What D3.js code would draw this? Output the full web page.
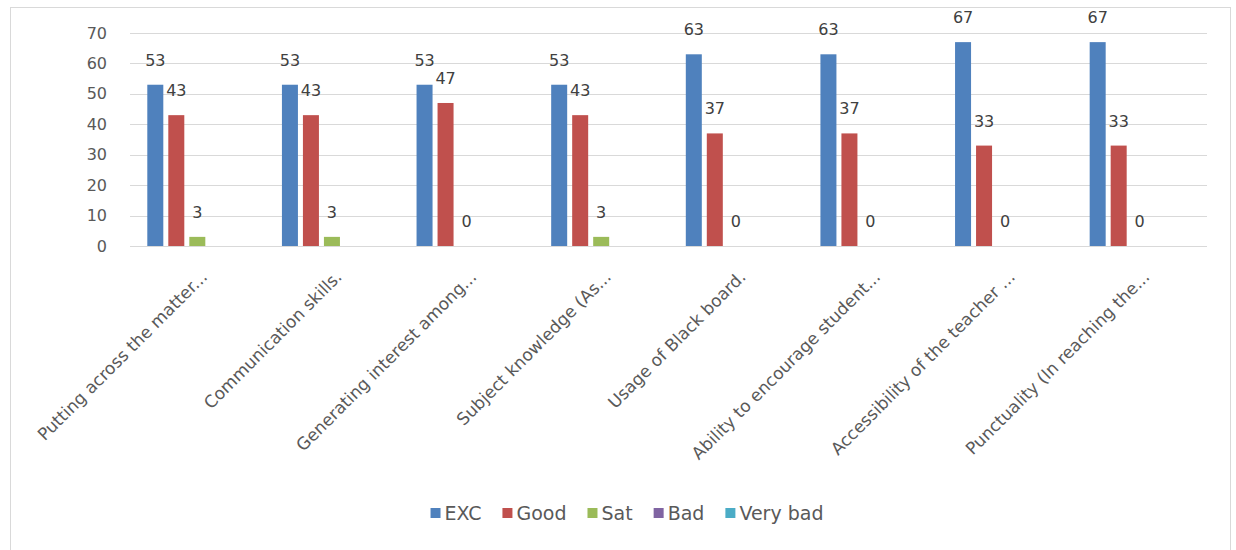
<!DOCTYPE html>
<html>
<head>
<meta charset="utf-8">
<style>
    body { margin: 0; background: #fff; }
    text { font-family: "DejaVu Sans", sans-serif; }
    .grid line { stroke: #d9d9d9; stroke-width: 1px; }
    .tick-label { fill: #595959; font-size: 16px; }
    .cat-label { fill: #595959; font-size: 17px; }
    .legend-label { fill: #595959; font-size: 19px; }
    .val { fill: #404040; font-size: 16px; }
</style>
</head>
<body>
<svg></svg>
<script src="https://d3js.org/d3.v7.min.js"></script>
<script>
    var vWidth = 1236;
    var vHeight = 550;

    var categories = [
        'Putting across the matter...',
        'Communication skills.',
        'Generating interest among...',
        'Subject knowledge (As...',
        'Usage of Black board.',
        'Ability to encourage student...',
        'Accessibility of the teacher ...',
        'Punctuality (In reaching the...'
    ];
    var seriesNames = ['EXC', 'Good', 'Sat', 'Bad', 'Very bad'];
    var seriesColors = ['#4f81bd', '#c0504d', '#9bbb59', '#8064a2', '#4bacc6'];
    var exc = [53, 53, 53, 53, 63, 63, 67, 67];
    var good = [43, 43, 47, 43, 37, 37, 33, 33];
    var sat = [3, 3, 0, 3, 0, 0, 0, 0];
    var bad = [0, 0, 0, 0, 0, 0, 0, 0];
    var veryBad = [0, 0, 0, 0, 0, 0, 0, 0];
    var yTicks = [0, 10, 20, 30, 40, 50, 60, 70];
    // only these series carry data labels in the original
    var labelled = ['EXC', 'Good', 'Sat'];

    var seriesValues = [exc, good, sat, bad, veryBad];

    var svg = d3.select('svg').attr('width', vWidth).attr('height', vHeight);

    // chart frame
    svg.append('rect')
        .attr('x', 10.5).attr('y', 7.5)
        .attr('width', 1220).attr('height', 560)
        .attr('fill', '#fff').attr('stroke', '#d9d9d9');

    var plot = { left: 130, right: 1207, top: 33, bottom: 246 };

    var x0 = d3.scaleBand().domain(categories)
        .range([plot.left, plot.right])
        .paddingInner(0.257).paddingOuter(0.1285);
    var x1 = d3.scaleBand().domain(seriesNames)
        .range([0, x0.bandwidth()])
        .paddingInner(0.238);
    var y = d3.scaleLinear().domain([0, 70]).range([plot.bottom, plot.top]);

    // gridlines
    svg.append('g').attr('class', 'grid')
        .selectAll('line').data(yTicks).enter().append('line')
        .attr('x1', plot.left).attr('x2', plot.right)
        .attr('y1', function (d) { return Math.round(y(d)) + 0.5; })
        .attr('y2', function (d) { return Math.round(y(d)) + 0.5; });

    // y axis labels
    var yAxis = svg.append('g')
        .attr('transform', 'translate(' + 107 + ',0)')
        .call(d3.axisLeft(y).tickValues(yTicks).tickSize(0).tickPadding(0));
    yAxis.select('.domain').remove();
    yAxis.selectAll('text').attr('class', 'tick-label').attr('fill', null)
        .attr('font-family', null).attr('font-size', null);

    // bars
    var table = categories.map(function (c, i) {
        return { cat: c, vals: seriesNames.map(function (s, k) {
            return { key: s, value: seriesValues[k][i], color: seriesColors[k] };
        }) };
    });

    var groups = svg.append('g').selectAll('g').data(table).enter().append('g')
        .attr('transform', function (d) { return 'translate(' + x0(d.cat) + ',0)'; });

    groups.selectAll('rect').data(function (d) { return d.vals; }).enter().append('rect')
        .attr('x', function (d) { return x1(d.key); })
        .attr('width', x1.bandwidth())
        .attr('y', function (d) { return y(d.value); })
        .attr('height', function (d) { return y(0) - y(d.value); })
        .attr('fill', function (d) { return d.color; });

    groups.selectAll('text.val')
        .data(function (d) { return d.vals.filter(function (v) { return labelled.indexOf(v.key) >= 0; }); })
        .enter().append('text').attr('class', 'val')
        .attr('text-anchor', 'middle')
        .attr('x', function (d) { return x1(d.key) + x1.bandwidth() / 2; })
        .attr('y', function (d) { return y(d.value) - 19; })
        .text(function (d) { return d.value; });

    // category labels, rotated
    svg.append('g').selectAll('text').data(categories).enter().append('text')
        .attr('class', 'cat-label')
        .attr('text-anchor', 'end')
        .attr('transform', function (d) {
            return 'translate(' + (x0(d) + x0.bandwidth() / 2 + 11) + ',' + (plot.bottom + 32) + ') rotate(-45)';
        })
        .text(function (d) { return d; });

    // legend
    var legend = svg.append('g').attr('transform', 'translate(0,513)');
    var items = legend.selectAll('g').data(seriesNames).enter().append('g');
    items.append('rect')
        .attr('y', -5).attr('width', 10).attr('height', 10)
        .attr('fill', function (d, i) { return seriesColors[i]; });
    items.append('text').attr('class', 'legend-label')
        .attr('x', 14).attr('dy', '0.35em')
        .text(function (d) { return d; });
    var gap = 21;
    var xpos = 0;
    var offsets = [];
    items.each(function () {
        offsets.push(xpos);
        xpos += 14 + this.querySelector('text').getComputedTextLength() + gap;
    });
    var total = xpos - gap;
    var start = 627 - total / 2;
    items.attr('transform', function (d, i) { return 'translate(' + (start + offsets[i]) + ',0)'; });
</script>
</body>
</html>
